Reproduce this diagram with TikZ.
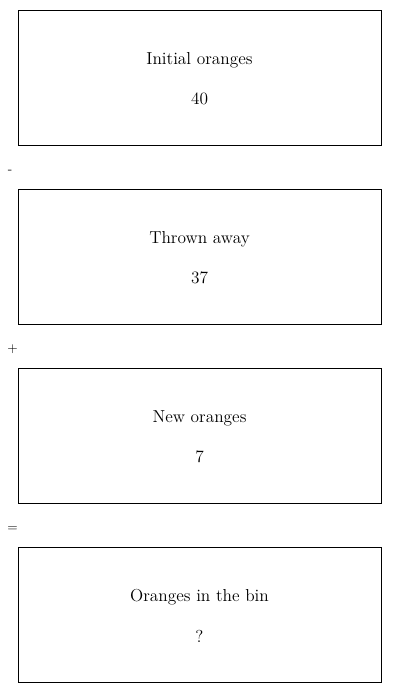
\documentclass[tikz,border=0pt]{standalone}
\usetikzlibrary{positioning}
\tikzset{
  qtybox/.style={draw=black, line width=0.75pt, minimum width=272.25pt, minimum height=101.25pt, inner sep=0pt},
  qtytext/.style={font=\fontsize{13pt}{15pt}\selectfont, inner sep=0pt, anchor=center},
  opsign/.style={font=\fontsize{10pt}{12pt}\selectfont, inner sep=0pt}
}
\newcommand{\QtyBox}[4]{%
  \node[qtybox] (#1) at (199.5,#2) {};
  \node[qtytext] (#1Label) at (199.5,#2-17) {#3};
  \node[qtytext] (#1Value) at (199.5,#2+21.5) {#4};}
\begin{document}
\begin{tikzpicture}[x=0.75pt,y=-0.75pt]
\useasboundingbox (0,0) rectangle (400,693);
\QtyBox{initial}{77.5}{Initial oranges}{40}
\QtyBox{thrown}{256.5}{Thrown away}{37}
\QtyBox{new}{435.5}{New oranges}{7}
\QtyBox{bin}{614.5}{Oranges in the bin}{?}
\node[opsign] (minus) at (10,171.5) {-};
\node[opsign] (plus) at (12.5,349.5) {+};
\node[opsign] (equals) at (12.5,529) {=};
\end{tikzpicture}
\end{document}
